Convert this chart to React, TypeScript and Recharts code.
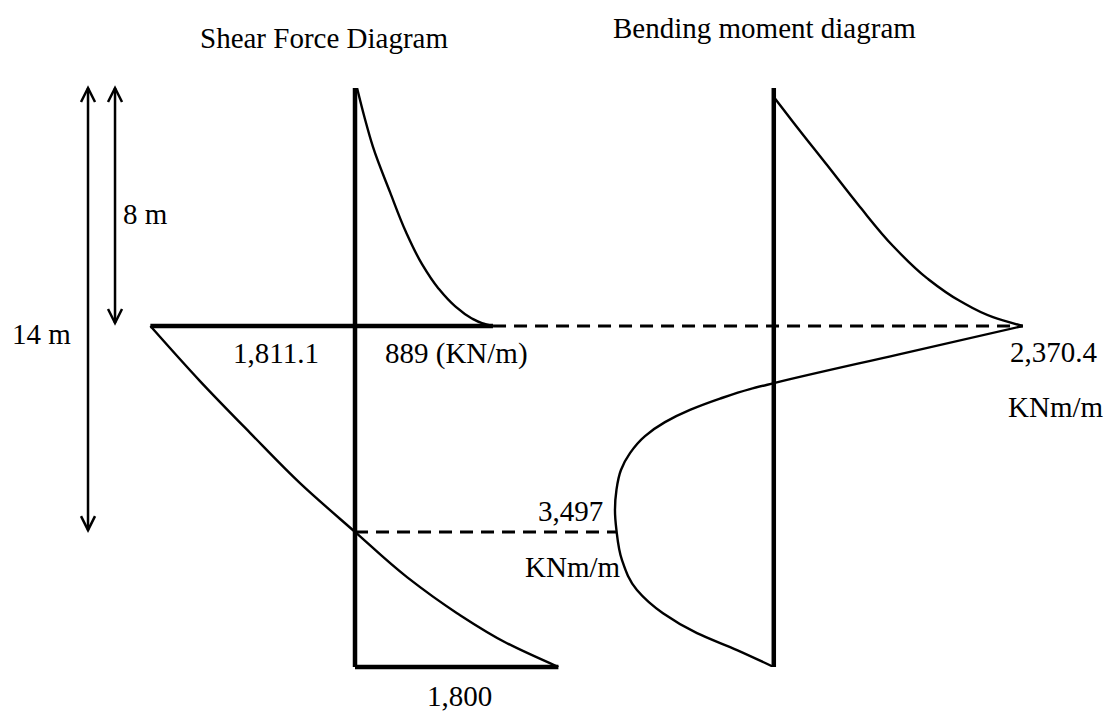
import { ComposedChart, Line, ReferenceLine, XAxis, YAxis } from "recharts";

// depth below the top, m (as drawn on the sketch)
const depthMax = 19.46;
const cutDepth = 8;
const zeroShearDepth = 14.92;

// shear force, kN/m
const shearUpper = [
  { d: 0, v: 18 },
  { d: 1.0, v: 85 },
  { d: 1.98, v: 159 },
  { d: 3.5, v: 310 },
  { d: 4.84, v: 451 },
  { d: 5.92, v: 593 },
  { d: 6.72, v: 735 },
  { d: 7.33, v: 885 },
  { d: 7.73, v: 1027 },
  { d: 7.9, v: 1124 },
  { d: 8.0, v: 1221 },
];
const shearLower = [
  { d: 8.0, v: -1811.1 },
  { d: 9.85, v: -1372 },
  { d: 11.59, v: -929 },
  { d: 13.28, v: -487 },
  { d: 14.92, v: 0 },
  { d: 16.44, v: 460 },
  { d: 17.65, v: 903 },
  { d: 18.66, v: 1345 },
  { d: 19.46, v: 1800 },
];
const shearCutLeft = -1811.1;
const shearCutRight = 1221;
const shearBase = 1800;

// bending moment, kNm/m
const momentUpper = [
  { d: 0.3, v: 0 },
  { d: 1.14, v: 183 },
  { d: 2.59, v: 507 },
  { d: 4.0, v: 821 },
  { d: 5.31, v: 1135 },
  { d: 6.39, v: 1458 },
  { d: 7.16, v: 1773 },
  { d: 7.7, v: 2087 },
  { d: 8.0, v: 2370.4 },
];
const momentLower = [
  { d: 8.0, v: 2370.4 },
  { d: 8.96, v: 1182 },
  { d: 9.92, v: 0 },
  { d: 10.12, v: -227 },
  { d: 10.44, v: -512 },
  { d: 10.82, v: -798 },
  { d: 11.23, v: -1036 },
  { d: 11.7, v: -1226 },
  { d: 12.27, v: -1369 },
  { d: 12.84, v: -1455 },
  { d: 13.51, v: -1498 },
  { d: 14.18, v: -1512 },
  { d: 14.86, v: -1498 },
  { d: 15.87, v: -1445 },
  { d: 16.87, v: -1303 },
  { d: 17.65, v: -1055 },
  { d: 18.32, v: -731 },
  { d: 18.89, v: -350 },
  { d: 19.46, v: 0 },
];
const momentPeak = 2370.4;
const momentAtZeroShear = -1498;
// dashed connectors, left ends in moment units
const cutLinkStart = -2673;
const zeroShearLinkStart = -3987;

// dimension arrows, m
const dims = [
  { to: 14.86, label: "14 m" },
  { to: 7.9, label: "8 m" },
];

const font = {
  fontFamily: "'Liberation Serif', 'Times New Roman', serif",
  fontSize: 29,
  fill: "#000",
};

function Arrow(p: any) {
  const { x1, y1, x2, y2 } = p;
  const h = 14;
  const w = 7;
  return (
    <g stroke="#000" strokeWidth={2.5} fill="none">
      <line x1={x1} y1={y1} x2={x2} y2={y2} />
      <polyline points={`${x1 - w},${y1 + h} ${x1},${y1} ${x1 + w},${y1 + h}`} />
      <polyline points={`${x2 - w},${y2 - h} ${x2},${y2} ${x2 + w},${y2 - h}`} />
    </g>
  );
}

const thick = { stroke: "#000", strokeWidth: 4.5 };
const dashed = { stroke: "#000", strokeWidth: 3, strokeDasharray: "13 8" };
const curve = { stroke: "#000", strokeWidth: 2.4, dot: false, activeDot: false, isAnimationActive: false };

export default function App() {
  return (
    <div style={{ position: "absolute", left: 0, top: 0, width: 1110, height: 713, background: "#fff" }}>
      <ComposedChart
        width={1110}
        height={713}
        layout="vertical"
        margin={{ top: 88, right: 0, bottom: 46, left: 0 }}
      >
        <XAxis xAxisId="shear" type="number" domain={[-3142, 6682]} allowDataOverflow hide />
        <XAxis xAxisId="moment" type="number" domain={[-7367, 3201]} allowDataOverflow hide />
        <YAxis type="number" dataKey="d" domain={[0, depthMax]} allowDataOverflow hide />

        <Line xAxisId="shear" data={shearUpper} dataKey="v" type="monotone" {...curve} />
        <Line xAxisId="shear" data={shearLower} dataKey="v" type="monotone" {...curve} />
        <Line xAxisId="moment" data={momentUpper} dataKey="v" type="monotone" {...curve} />
        <Line xAxisId="moment" data={momentLower} dataKey="v" type="monotone" {...curve} />

        <ReferenceLine xAxisId="shear" segment={[{ x: 0, y: 0 }, { x: 0, y: depthMax }]} {...thick} />
        <ReferenceLine
          xAxisId="shear"
          segment={[{ x: shearCutLeft, y: cutDepth }, { x: shearCutRight, y: cutDepth }]}
          {...thick}
        />
        <ReferenceLine
          xAxisId="shear"
          segment={[{ x: 0, y: depthMax }, { x: shearBase, y: depthMax }]}
          {...thick}
        />
        <ReferenceLine xAxisId="moment" segment={[{ x: 0, y: 0 }, { x: 0, y: depthMax }]} {...thick} />

        <ReferenceLine
          xAxisId="moment"
          segment={[{ x: cutLinkStart, y: cutDepth }, { x: momentPeak, y: cutDepth }]}
          {...dashed}
        />
        <ReferenceLine
          xAxisId="moment"
          segment={[{ x: zeroShearLinkStart, y: zeroShearDepth }, { x: momentAtZeroShear, y: zeroShearDepth }]}
          {...dashed}
        />

        <ReferenceLine
          xAxisId="shear"
          segment={[{ x: -2363, y: 0 }, { x: -2363, y: dims[0].to }]}
          shape={Arrow}
        />
        <ReferenceLine
          xAxisId="shear"
          segment={[{ x: -2124, y: 0 }, { x: -2124, y: dims[1].to }]}
          shape={Arrow}
        />
      </ComposedChart>

      <svg width={1110} height={713} style={{ position: "absolute", left: 0, top: 0, pointerEvents: "none" }}>
        <text x={200} y={48} {...font}>Shear Force Diagram</text>
        <text x={613} y={38} {...font}>Bending moment diagram</text>
        <text x={123} y={224} {...font}>{dims[1].label}</text>
        <text x={12} y={344} {...font}>{dims[0].label}</text>
        <text x={233} y={363} {...font}>1,811.1</text>
        <text x={385} y={363} {...font}>889 (KN/m)</text>
        <text x={1010} y={362} {...font}>2,370.4</text>
        <text x={1008} y={417} {...font}>KNm/m</text>
        <text x={538} y={521} {...font}>3,497</text>
        <text x={525} y={577} {...font}>KNm/m</text>
        <text x={427} y={706} {...font}>1,800</text>
      </svg>
    </div>
  );
}
